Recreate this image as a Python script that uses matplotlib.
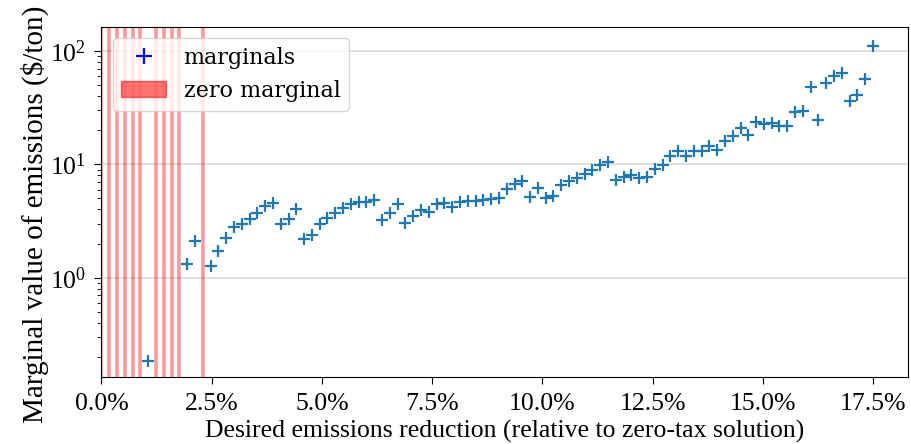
import numpy as np
import matplotlib
matplotlib.use("Agg")
import matplotlib.pyplot as plt
from matplotlib.lines import Line2D
from matplotlib.patches import Patch
from matplotlib.ticker import PercentFormatter, MultipleLocator

plt.rcParams["font.family"] = "serif"
plt.rcParams["font.serif"] = ["Liberation Serif", "DejaVu Serif"]
plt.rcParams["mathtext.fontset"] = "dejavuserif"

# desired reductions, evenly spaced runs (fraction of zero-tax emissions)
reductions = np.linspace(0, 0.175, 100)

# marginal value of emissions in $/ton, 0 where the constraint gave a zero marginal
marginals = [
    0, 0, 0, 0, 0, 0, 0.183, 0, 0, 0,
    0, 1.32, 2.12, 0, 1.28, 1.73, 2.24, 2.8, 3.0, 3.3,
    3.7, 4.3, 4.6, 2.95, 3.3, 4.0, 2.2, 2.4, 3.0, 3.35,
    3.7, 4.1, 4.45, 4.65, 4.7, 4.85, 3.24, 3.7, 4.5, 3.05,
    3.5, 3.97, 3.78, 4.5, 4.6, 4.2, 4.65, 4.75, 4.75, 4.87,
    4.94, 5.1, 6.1, 6.7, 7.2, 5.2, 6.2, 5.04, 5.28, 6.6,
    7.2, 7.6, 8.3, 9.0, 9.8, 10.4, 7.3, 7.7, 8.1, 7.6,
    7.8, 9.1, 9.9, 11.8, 13.0, 11.9, 13.0, 13.2, 14.5, 13.5,
    16.0, 17.7, 21.0, 18.3, 23.5, 22.5, 23.2, 22.0, 22.0, 28.8,
    29.4, 48.4, 24.5, 51.8, 60.1, 64.4, 36.1, 40.5, 56.2, 111,
]

marginals = np.array(marginals)
zero = marginals == 0

fig = plt.figure(figsize=(9.11, 4.44), dpi=100)
ax = fig.add_axes([0.1114, 0.150, 0.8856, 0.790])

# runs where the marginal came out as zero
for x in reductions[zero]:
    ax.axvline(x, color="red", alpha=0.4, linewidth=2.6, zorder=1)

ax.scatter(reductions[~zero], marginals[~zero], marker="+", s=80,
           linewidths=1.6, color="tab:blue", zorder=3)

ax.set_yscale("log")
ax.set_ylim(0.132, 164)
ax.set_xlim(0, 0.183)
ax.xaxis.set_major_locator(MultipleLocator(0.025))
ax.xaxis.set_major_formatter(PercentFormatter(xmax=1, decimals=1))
ax.yaxis.grid(True, which="major", color="#d9d9d9", linewidth=1.2)
ax.set_axisbelow(True)
ax.tick_params(which="major", labelsize=18.5, length=5, pad=6)
ax.tick_params(which="minor", length=3)

ax.set_xlabel("Desired emissions reduction (relative to zero-tax solution)", fontsize=18.5)
ax.set_ylabel("Marginal value of emissions ($/ton)", fontsize=21)
ax.yaxis.set_label_coords(-0.065, 0.466)

handles = [
    Line2D([], [], marker="+", color="blue", linestyle="None", markersize=11, markeredgewidth=1.6),
    Patch(color="red", alpha=0.55),
]
ax.legend(handles, ["marginals", "zero marginal"], loc="upper left",
          prop={"family": "DejaVu Serif", "size": 16})

fig.savefig("out.png", dpi=100)
